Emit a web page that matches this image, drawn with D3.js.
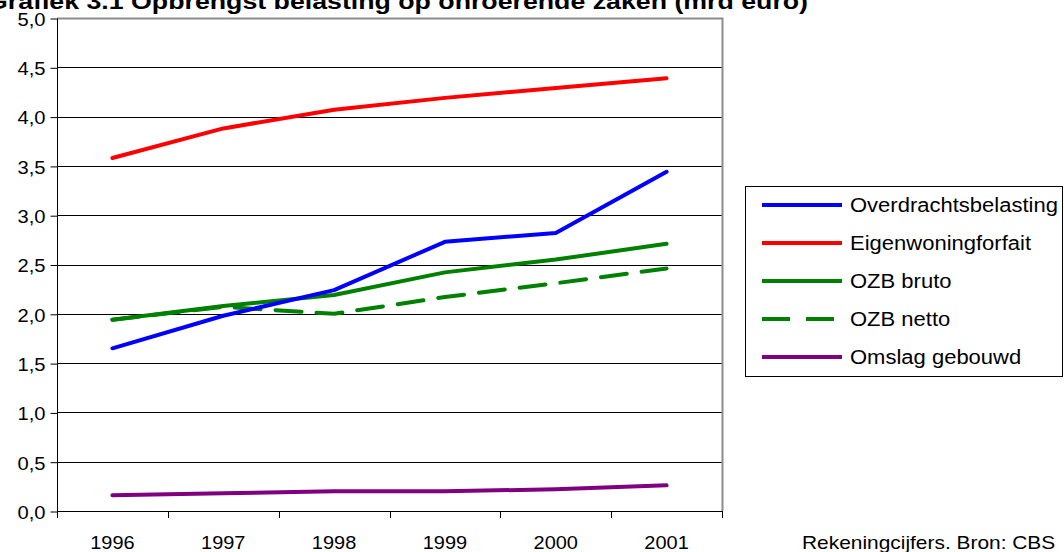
<!DOCTYPE html>
<html>
<head>
<meta charset="utf-8">
<script src="https://cdn.jsdelivr.net/npm/d3@7"></script>
<style>
  body { margin: 0; background: #fff; }
  svg { display: block; font-family: "Liberation Sans", Arial, sans-serif; }
</style>
</head>
<body>
<div id="chart"></div>
<script>
// data (mrd euro)
var years = ["1996", "1997", "1998", "1999", "2000", "2001"];
var overdracht = [1.65, 1.98, 2.24, 2.73, 2.82, 3.44];
var eigenwoning = [3.58, 3.88, 4.07, 4.19, 4.29, 4.39];
var ozbBruto = [1.94, 2.08, 2.19, 2.42, 2.55, 2.71];
var ozbNetto = [1.94, 2.07, 2.00, 2.17, 2.31, 2.46];
var omslag = [0.16, 0.18, 0.20, 0.20, 0.22, 0.26];
var yTicks = [0, 0.5, 1, 1.5, 2, 2.5, 3, 3.5, 4, 4.5, 5];

var series = [
    {name: "Overdrachtsbelasting", values: overdracht, color: "#0000ff", dash: null},
    {name: "Eigenwoningforfait", values: eigenwoning, color: "#ff0000", dash: null},
    {name: "OZB bruto", values: ozbBruto, color: "#008000", dash: null},
    {name: "OZB netto", values: ozbNetto, color: "#008000", dash: "26,15"},
    {name: "Omslag gebouwd", values: omslag, color: "#800080", dash: null}
];

var W = 1064, H = 552;
var plot = {left: 57, right: 722, top: 18, bottom: 511};

var svg = d3.select("#chart").append("svg")
    .attr("width", W)
    .attr("height", H);

var x = d3.scaleBand().domain(years).range([plot.left, plot.right]).padding(0);
var y = d3.scaleLinear().domain([0, 5]).range([plot.bottom, plot.top]);

// widen text a little like the original
function widen(sel, k) {
    sel.each(function() {
        var len = this.getComputedTextLength();
        d3.select(this).attr("textLength", len * k).attr("lengthAdjust", "spacingAndGlyphs");
    });
}

// title (cut off at the top in the picture)
svg.append("text")
    .attr("x", -13)
    .attr("y", 9)
    .style("font-size", "22px")
    .style("font-weight", "bold")
    .attr("textLength", 821)
    .attr("lengthAdjust", "spacingAndGlyphs")
    .text("Grafiek 3.1 Opbrengst belasting op onroerende zaken (mrd euro)");

// gridlines
svg.append("g")
    .selectAll("line")
    .data(yTicks.filter(d => d > 0 && d < 5))
    .enter().append("line")
    .attr("x1", plot.left)
    .attr("x2", plot.right)
    .attr("y1", d => Math.round(y(d)) + 0.5)
    .attr("y2", d => Math.round(y(d)) + 0.5)
    .attr("stroke", "#000")
    .attr("stroke-width", 1);

// plot border (top + right, grey)
svg.append("path")
    .attr("d", "M" + plot.left + "," + (plot.top + 0.5) + "H" + (plot.right + 0.5) + "V" + plot.bottom)
    .attr("fill", "none")
    .attr("stroke", "#8c8c8c")
    .attr("stroke-width", 2);

// y axis
var yAxis = svg.append("g")
    .attr("transform", "translate(" + (plot.left + 0.5) + ",0.5)")
    .call(d3.axisLeft(y).tickValues(yTicks).tickSize(7).tickPadding(5)
        .tickFormat(d => d3.format(".1f")(d).replace(".", ",")));
yAxis.select(".domain").attr("stroke", "#000").attr("d", "M0," + plot.top + "V" + plot.bottom);
yAxis.selectAll("text")
    .style("font-size", "19px")
    .style("font-family", "Liberation Sans, Arial, sans-serif")
    .attr("fill", "#000")
    .attr("dy", "0.36em")
    .call(widen, 1.06);

// x axis: ticks on the band edges, labels at band centres
var xAxisG = svg.append("g");
xAxisG.append("line")
    .attr("x1", plot.left).attr("x2", plot.right + 1)
    .attr("y1", plot.bottom + 0.5).attr("y2", plot.bottom + 0.5)
    .attr("stroke", "#000");
var edges = years.map(d => x(d)).concat([x(years[years.length - 1]) + x.bandwidth()]);
xAxisG.selectAll(".tk")
    .data(edges)
    .enter().append("line")
    .attr("class", "tk")
    .attr("x1", d => Math.round(d) + 0.5).attr("x2", d => Math.round(d) + 0.5)
    .attr("y1", plot.bottom).attr("y2", plot.bottom + 7)
    .attr("stroke", "#000");
xAxisG.selectAll(".lbl")
    .data(years)
    .enter().append("text")
    .attr("class", "lbl")
    .attr("x", d => x(d) + x.bandwidth() / 2)
    .attr("y", 549)
    .attr("text-anchor", "middle")
    .style("font-size", "19px")
    .text(d => d)
    .call(widen, 1.05);

// lines
var line = d3.line()
    .x((d, i) => x(years[i]) + x.bandwidth() / 2)
    .y(d => y(d));

svg.append("g")
    .selectAll("path")
    .data(series.slice().reverse())
    .enter().append("path")
    .attr("d", d => line(d.values))
    .attr("fill", "none")
    .attr("stroke", d => d.color)
    .attr("stroke-width", 4)
    .attr("stroke-linecap", "round")
    .attr("stroke-linejoin", "round")
    .attr("stroke-dasharray", d => d.dash);

// legend
var legend = svg.append("g");
legend.append("rect")
    .attr("x", 745.5).attr("y", 186.5)
    .attr("width", 317).attr("height", 190)
    .attr("fill", "#fff")
    .attr("stroke", "#000");

var items = legend.selectAll(".item")
    .data(series)
    .enter().append("g")
    .attr("class", "item")
    .attr("transform", (d, i) => "translate(0," + (205 + i * 38) + ")");
items.append("line")
    .attr("x1", 762).attr("x2", 842)
    .attr("stroke", d => d.color)
    .attr("stroke-width", 4)
    .attr("stroke-dasharray", d => d.dash ? "28,16" : null);
items.append("text")
    .attr("x", 850)
    .attr("y", 7)
    .style("font-size", "20px")
    .text(d => d.name)
    .call(widen, 1.1);

// source note
svg.append("text")
    .attr("x", 802)
    .attr("y", 549)
    .style("font-size", "19px")
    .text("Rekeningcijfers. Bron: CBS")
    .call(widen, 1.1);
</script>
</body>
</html>
